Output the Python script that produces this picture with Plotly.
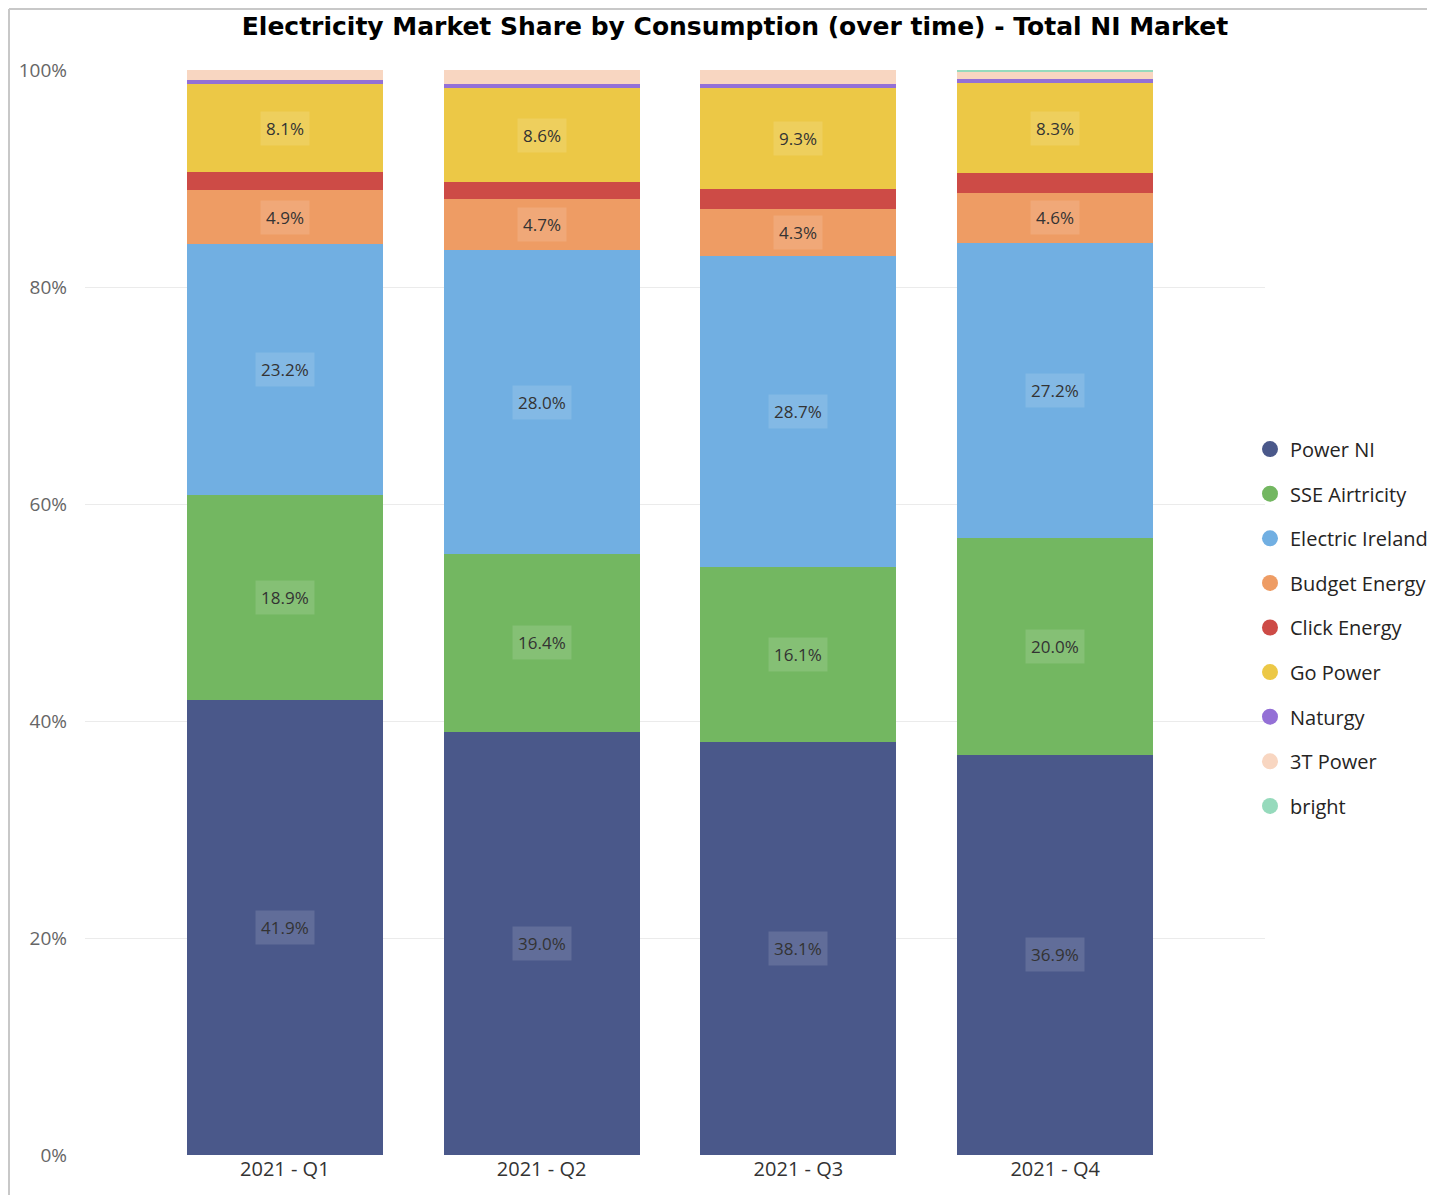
import numpy as np
import plotly.graph_objects as go

quarters = ["2021 - Q1", "2021 - Q2", "2021 - Q3", "2021 - Q4"]
suppliers = ["Power NI", "SSE Airtricity", "Electric Ireland", "Budget Energy",
             "Click Energy", "Go Power", "Naturgy", "3T Power", "bright"]
power_ni = [41.9, 39.0, 38.1, 36.9]
sse_airtricity = [18.9, 16.4, 16.1, 20.0]
electric_ireland = [23.2, 28.0, 28.7, 27.2]
budget_energy = [4.9, 4.7, 4.3, 4.6]
click_energy = [1.7, 1.6, 1.8, 1.8]
go_power = [8.1, 8.6, 9.3, 8.3]
naturgy = [0.4, 0.4, 0.4, 0.4]
three_t_power = [0.9, 1.3, 1.3, 0.6]
bright = [0.0, 0.0, 0.0, 0.2]
labelled = ["Power NI", "SSE Airtricity", "Electric Ireland", "Budget Energy", "Go Power"]
y_ticks = [0, 20, 40, 60, 80, 100]
y_tick_labels = ["0%", "20%", "40%", "60%", "80%", "100%"]

series = [power_ni, sse_airtricity, electric_ireland, budget_energy,
          click_energy, go_power, naturgy, three_t_power, bright]
colors = ["#4A588A", "#73B761", "#71AFE2", "#EE9C64", "#CD4B46",
          "#ECC846", "#9470D6", "#F8D6C1", "#96DABC"]

fig = go.Figure()
base = np.zeros(len(quarters))
annotations = []
for name, vals, col in zip(suppliers, series, colors):
    v = np.array(vals)
    fig.add_trace(go.Bar(x=quarters, y=v, name=name, marker=dict(color=col, line=dict(width=0)),
                         showlegend=False, hoverinfo="name+y"))
    if name in labelled:
        for q, b, val in zip(quarters, base, v):
            annotations.append(dict(x=q, y=b + val / 2, xref="x", yref="y",
                                    text=f"{val:.1f}%", showarrow=False,
                                    font=dict(family="Open Sans", size=17, color="#333333"),
                                    bgcolor="rgba(255,255,255,0.13)", borderpad=5))
    base = base + v

for i, (name, col) in enumerate(zip(suppliers, colors)):
    fig.add_trace(go.Scatter(x=[None], y=[None], mode="markers", name=name,
                             legendgroup=f"g{i}",
                             marker=dict(symbol="circle", size=16, color=col)))

shapes = [
    dict(type="line", xref="paper", yref="paper", x0=-0.0644, x1=-0.0644, y0=1.0562, y1=-0.05,
         line=dict(color="#C8C8C8", width=2)),
    dict(type="line", xref="paper", yref="paper", x0=-0.0644, x1=1.2, y0=1.0562, y1=1.0562,
         line=dict(color="#C8C8C8", width=2)),
]

fig.update_layout(
    width=1435, height=1195,
    margin=dict(l=77, r=178, t=62, b=48, autoexpand=False),
    paper_bgcolor="white", plot_bgcolor="white",
    barmode="stack", bargap=0.237,
    title=dict(text="<b>Electricity Market Share by Consumption (over time) - Total NI Market</b>",
               x=0.5066, xanchor="center", y=0.985, yanchor="middle",
               font=dict(family="DejaVu Sans", size=25, color="#000000")),
    xaxis=dict(range=[-0.778, 3.817], showgrid=False, zeroline=False, showline=False,
               ticks="", tickfont=dict(family="Open Sans", size=20, color="#333333")),
    yaxis=dict(range=[0, 100], tickvals=y_ticks, ticktext=y_tick_labels,
               showgrid=True, gridcolor="#EBEBEB", gridwidth=1, zeroline=False,
               ticks="", ticklabelstandoff=17,
               tickfont=dict(family="Open Sans", size=19, color="#666666")),
    legend=dict(xref="container", yref="container", x=0.8655, xanchor="left",
                y=0.6472, yanchor="top",
                traceorder="grouped", tracegroupgap=15.6,
                font=dict(family="Open Sans", size=20, color="#252423"),
                itemwidth=30, bgcolor="rgba(0,0,0,0)"),
    annotations=annotations,
    shapes=shapes,
)

fig.write_html("out.html")
